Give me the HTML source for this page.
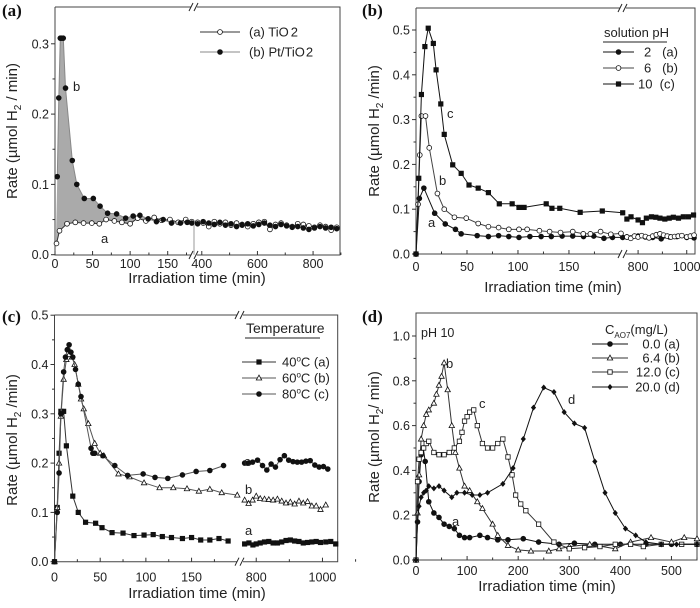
<!DOCTYPE html>
<html><head><meta charset="utf-8"><style>
html,body{margin:0;padding:0;background:#fff;}
svg{display:block;font-family:"Liberation Sans",sans-serif;}
</style></head><body>
<svg id="fig" width="700" height="608" viewBox="0 0 700 608" xmlns="http://www.w3.org/2000/svg"></svg>
<script>
// ---------- Panel (a) data ----------
const aT1 = [2,6,16,27,38,49,59,68,79,89,100,110,121,132,142,153,164,174,182];
const aV1 = [0.016,0.034,0.044,0.046,0.045,0.045,0.044,0.050,0.048,0.046,0.044,0.052,0.048,0.053,0.049,0.050,0.046,0.050,0.047];
const aT2 = [385,405,425,445,465,485,505,525,545,565,585,605,625,645,665,685,705,725,745,765,785,805,825,845,865,885];
const aV2 = [0.046,0.045,0.040,0.047,0.044,0.046,0.042,0.045,0.043,0.040,0.044,0.046,0.047,0.036,0.043,0.045,0.042,0.040,0.044,0.043,0.041,0.039,0.042,0.040,0.035,0.039];
const bT1 = [3,5,7,9,11,14,23,29,39,51,60,70,82,94,104,113,124,135,144,155,167,176,182];
const bV1 = [0.111,0.223,0.308,0.308,0.308,0.237,0.134,0.100,0.080,0.080,0.069,0.059,0.058,0.052,0.055,0.056,0.051,0.047,0.050,0.045,0.045,0.046,0.045];
const bV2 = [0.044,0.047,0.045,0.043,0.046,0.042,0.044,0.040,0.042,0.044,0.041,0.043,0.045,0.042,0.040,0.043,0.041,0.039,0.040,0.038,0.036,0.038,0.040,0.038,0.039,0.037];
// ---------- Panel (b) data ----------
const pHcT = [0,2.7,5.3,8.7,12,17,19.7,24.3,27.7,36,44.3,52,61,71,81.7,94.3,101,106,127.7,133.3,141,161,182.7,202.7, 754,771,800,818,834,855,873,890,910,928,945,966,986,1007,1028];
const pHcV = [0,0.169,0.356,0.463,0.504,0.470,0.411,0.335,0.267,0.199,0.180,0.154,0.147,0.137,0.112,0.112,0.104,0.104,0.112,0.102,0.102,0.093,0.096,0.092, 0.078,0.083,0.076,0.070,0.080,0.083,0.082,0.080,0.078,0.080,0.082,0.080,0.083,0.083,0.087];
const pHbT = [0,2,3.7,5.3,9.3,13,21,27.7,37.7,49.3,61,71,81,91,101,109,121,131,141.7,153.7,164,171,181,191,201, 754,770,785,800,815,830,845,860,875,890,905,920,935,950,965,980,1000,1015,1030];
const pHbV = [0,0.111,0.221,0.308,0.308,0.237,0.135,0.100,0.082,0.080,0.068,0.061,0.059,0.055,0.055,0.055,0.052,0.050,0.048,0.050,0.045,0.045,0.050,0.044,0.046, 0.038,0.035,0.040,0.038,0.041,0.039,0.036,0.040,0.043,0.045,0.042,0.040,0.038,0.039,0.040,0.041,0.038,0.040,0.042];
const pHaT = [0,3.3,7.7,18.3,28.7,38.7,44.3,60,71,81,91,101,111.7,122.7,132.7,143.3,153.7,164.3,174.3,184.3,192.7,202.7, 754,770,800,830,860,895,930,960,1000,1030];
const pHaV = [0,0.124,0.147,0.091,0.067,0.055,0.045,0.041,0.039,0.041,0.039,0.037,0.039,0.039,0.039,0.040,0.040,0.039,0.040,0.035,0.037,0.037, 0.038,0.036,0.040,0.038,0.037,0.034,0.038,0.039,0.037,0.036];
// ---------- Panel (c) data ----------
const tcT = [0,3,5,7,10,12,14,16,18,20,23,26,29,40,42,44,53,66,80,97,110,124,140,155,170,185, 765,777,789,804,819,832,845,858,872,885,898,911,924,937,950,963,977,990,1003,1016];
const tcV = [0,0.10,0.18,0.30,0.385,0.415,0.43,0.44,0.425,0.415,0.39,0.36,0.335,0.23,0.22,0.22,0.215,0.195,0.175,0.178,0.171,0.169,0.176,0.183,0.185,0.195, 0.200,0.200,0.202,0.206,0.195,0.186,0.198,0.192,0.207,0.215,0.206,0.203,0.202,0.202,0.204,0.205,0.196,0.192,0.193,0.188];
const tbT = [0,3,5,7,10,13,16,19,22,26,29,32,37,44,50,54,70,82,98,115,130,145,158,170,183,200, 765,777,789,800,812,825,838,851,864,877,890,903,916,929,942,955,968,981,994,1010];
const tbV = [0,0.11,0.20,0.295,0.37,0.41,0.42,0.415,0.40,0.36,0.33,0.31,0.28,0.24,0.22,0.215,0.178,0.172,0.16,0.15,0.15,0.148,0.143,0.147,0.14,0.135, 0.125,0.118,0.125,0.133,0.128,0.127,0.126,0.125,0.127,0.123,0.119,0.121,0.117,0.123,0.119,0.122,0.113,0.113,0.106,0.115];
const taT = [0,3,5,7,10,13,20,26,34,45,52,63,75,87,98,108,118,128,140,150,160,170,180,190, 765,778,790,800,812,825,838,851,864,877,890,903,916,929,942,955,968,981,994,1010,1025,1040];
const taV = [0,0.11,0.22,0.305,0.305,0.235,0.133,0.10,0.08,0.078,0.069,0.059,0.058,0.053,0.054,0.055,0.051,0.049,0.047,0.049,0.044,0.044,0.047,0.042, 0.036,0.038,0.034,0.036,0.038,0.040,0.041,0.038,0.038,0.040,0.043,0.044,0.042,0.041,0.038,0.039,0.040,0.041,0.039,0.040,0.041,0.036];
// ---------- Panel (d) data ----------
const dAT = [0,3,6,10,14,18,25,35,45,55,65,75,85,95,105,125,140,160,180,210,240,280,310,350,400,450,500,550];
const dAV = [0,0.17,0.35,0.47,0.50,0.44,0.26,0.21,0.19,0.16,0.15,0.14,0.11,0.10,0.10,0.11,0.10,0.09,0.09,0.095,0.08,0.07,0.075,0.07,0.07,0.07,0.07,0.07];
const dBT = [0,3,6,10,15,20,25,35,40,45,50,55,62,70,77,85,95,105,120,130,150,160,180,200,225,260,280,300,340,390,420,460,500,525,550];
const dBV = [0,0.21,0.38,0.54,0.60,0.65,0.67,0.70,0.74,0.78,0.82,0.88,0.76,0.60,0.48,0.41,0.33,0.31,0.26,0.23,0.16,0.11,0.065,0.045,0.04,0.04,0.05,0.06,0.07,0.05,0.08,0.10,0.08,0.10,0.095];
const dCT = [0,3,6,10,15,20,25,35,45,55,65,75,85,90,95,100,105,113,120,130,140,150,160,170,180,188,195,205,215,240,270,300,330,360,390,420,445,480,520,550];
const dCV = [0,0.35,0.45,0.48,0.50,0.52,0.53,0.48,0.47,0.47,0.48,0.50,0.53,0.57,0.62,0.64,0.66,0.67,0.60,0.52,0.50,0.50,0.52,0.54,0.46,0.38,0.29,0.25,0.22,0.16,0.08,0.05,0.055,0.06,0.07,0.07,0.06,0.07,0.07,0.07];
const dDT = [0,3,6,10,15,20,25,35,45,55,70,80,95,110,125,140,170,190,210,230,250,270,290,310,330,350,370,390,410,430,450,480,510,550];
const dDV = [0,0.17,0.24,0.28,0.30,0.31,0.33,0.32,0.33,0.31,0.28,0.30,0.30,0.29,0.29,0.30,0.34,0.41,0.54,0.68,0.77,0.75,0.66,0.61,0.59,0.44,0.30,0.21,0.14,0.11,0.08,0.07,0.07,0.07];

// tick labels
const aYTicks = [0,0.1,0.2,0.3];
const aXTicks1 = [0,50,100,150];
const aXTicks2 = [400,600,800];
const bYTicks = [0,0.1,0.2,0.3,0.4,0.5];
const bXTicks1 = [0,50,100,150];
const bXTicks2 = [800,1000];
const cYTicks = [0,0.1,0.2,0.3,0.4,0.5];
const cXTicks1 = [0,50,100,150];
const cXTicks2 = [800,1000];
const dYTicks = [0,0.2,0.4,0.6,0.8,1.0];
const dXTicks = [0,100,200,300,400,500];

const NS = "http://www.w3.org/2000/svg";
const svg = document.getElementById('fig');
function mk(tag, attrs, parent){
  const e = document.createElementNS(NS, tag);
  for (const k in attrs) e.setAttribute(k, attrs[k]);
  (parent||svg).appendChild(e);
  return e;
}
function makeX(segs){
  return function(t){
    for (const s of segs){ if (t >= s.d0 - 1e-9 && t <= s.d1 + 1e-9) return s.p0 + (t - s.d0)/(s.d1 - s.d0)*(s.p1 - s.p0); }
    const s = segs[segs.length-1]; return s.p0 + (t - s.d0)/(s.d1 - s.d0)*(s.p1 - s.p0);
  };
}
function segOf(segs, t){ for (let i=0;i<segs.length;i++){ if (t <= segs[i].d1 + 1e-9) return i; } return segs.length-1; }
function marker(g, type, cx, cy, name){
  let e;
  if (type==='fc'||type==='oc'){ e = mk('circle',{cx:cx,cy:cy,r:2.4,fill:type==='fc'?'#111':'#fff',stroke:'#111','stroke-width':0.8},g); }
  else if (type==='fs'||type==='os'){ e = mk('rect',{x:cx-2.2,y:cy-2.2,width:4.4,height:4.4,fill:type==='fs'?'#111':'#fff',stroke:'#111','stroke-width':0.8},g); }
  else if (type==='ot'){ e = mk('polygon',{points:`${cx},${cy-2.9} ${cx+2.7},${cy+2} ${cx-2.7},${cy+2}`,fill:'#fff',stroke:'#111','stroke-width':0.8},g); }
  else { e = mk('polygon',{points:`${cx},${cy-3} ${cx+2.6},${cy} ${cx},${cy+3} ${cx-2.6},${cy}`,fill:'#111'},g); }
  
  
}
function series(panel, segs, X, Y, T, V, type, color, name){
  const g = mk('g', {});
  
  
  let d = '';
  for (let i=0;i<T.length;i++){
    const x = X(T[i]), y = Y(V[i]);
    const newSeg = i===0 || segOf(segs,T[i]) !== segOf(segs,T[i-1]);
    d += (newSeg?'M':'L') + x.toFixed(1) + ',' + y.toFixed(1);
  }
  const p = mk('path',{d:d,fill:'none',stroke:color,'stroke-width':1},g);
  
  
  for (let i=0;i<T.length;i++) marker(g, type, X(T[i]), Y(V[i]), panel + '-point-' + name);
}
function txt(s, x, y, opts, name){
  const e = mk('text', Object.assign({x:x,y:y,'font-size':12,fill:'#222'}, opts||{}));
  e.textContent = s;
  
  
  return e;
}
function frame(panel, L, R, T, B, breakX){
  const g = mk('g', {});
  
  
  if (breakX){
    mk('path',{d:`M${L},${T}H${breakX-3}M${breakX+3},${T}H${R}V${B}H${breakX+3}M${breakX-3},${B}H${L}V${T}`,fill:'none',stroke:'#444','stroke-width':1},g);
    for (const yy of [T,B]){
      mk('line',{x1:breakX-5,y1:yy+4,x2:breakX-1,y2:yy-4,stroke:'#222','stroke-width':1},g);
      mk('line',{x1:breakX,y1:yy+4,x2:breakX+4,y2:yy-4,stroke:'#222','stroke-width':1},g);
    }
  } else {
    mk('rect',{x:L,y:T,width:R-L,height:B-T,fill:'none',stroke:'#444','stroke-width':1},g);
  }
}
function xTicks(panel, X, ticks, B, minorStep, off){
  const g = mk('g', {});
  
  
  for (const t of ticks){
    const x = X(t);
    mk('line',{x1:x,y1:B,x2:x,y2:B-4,stroke:'#333'},g);
    const e = mk('text',{x:x,y:B+off,'text-anchor':'middle','font-size':12.5,fill:'#222'},g);
    e.textContent = String(t);
    
    
    if (minorStep){ const xm = X(t + minorStep); mk('line',{x1:xm,y1:B,x2:xm,y2:B-2.5,stroke:'#333'},g); }
  }
}
function yTicks(panel, Y, ticks, L){
  const g = mk('g', {});
  
  
  for (let i=0;i<ticks.length;i++){
    const y = Y(ticks[i]);
    mk('line',{x1:L-4,y1:y,x2:L,y2:y,stroke:'#333'},g);
    if (i<ticks.length-1){ const ym=(y+Y(ticks[i+1]))/2; mk('line',{x1:L-2.5,y1:ym,x2:L,y2:ym,stroke:'#333'},g); }
    const e = mk('text',{x:L-6,y:y+4.5,'text-anchor':'end','font-size':12.5,fill:'#222'},g);
    e.textContent = ticks[i].toFixed(1);
    
    
  }
}
function yTitle(panel, x, yc, sub){
  const e = mk('text',{x:0,y:0,transform:`translate(${x},${yc}) rotate(-90)`,'text-anchor':'middle','font-size':15,fill:'#222'});
  e.innerHTML = 'Rate (µmol H<tspan dy="4" font-size="10">2</tspan><tspan dy="-4">' + sub + '</tspan>';
  
  
}
function xTitle(panel, x, y){
  txt('Irradiation time (min)', x, y, {'text-anchor':'middle','font-size':15}, panel + '-x-axis-title');
}
function panelLabel(s, x, y, panel){
  txt(s, x, y, {'font-family':'"Liberation Serif",serif','font-weight':'bold','font-size':17,fill:'#111'}, panel + '-panel-label');
}
function legendRow(panel, x1, x2, y, type, color, label, tx, anchor){
  const g = mk('g', {});
  
  
  mk('line',{x1:x1,y1:y,x2:x2,y2:y,stroke:color,'stroke-width':1},g);
  marker(g, type, (x1+x2)/2, y, panel + '-legend-marker');
  const e = mk('text',{x:tx,y:y+4.5,'font-size':13,fill:'#222','text-anchor':anchor||'start'},g);
  e.innerHTML = label;
  
  
}

// ===== Panel (a) =====
(function(){
  const segs = [{d0:0,d1:185,p0:55,p1:194},{d0:372,d1:895,p0:194,p1:339.5}];
  const X = makeX(segs), Y = v => 254.7 - v*703;
  let pts = bT1.map((t,i)=>X(t).toFixed(1)+','+Y(bV1[i]).toFixed(1));
  pts.push(X(185).toFixed(1)+','+Y(0.045).toFixed(1));
  for (let i=aT1.length-1;i>=0;i--) pts.push(X(aT1[i]).toFixed(1)+','+Y(aV1[i]).toFixed(1));
  pts.push(X(1).toFixed(1)+','+Y(0.01).toFixed(1));
  const sh = mk('polygon',{points:pts.join(' '),fill:'#aaa',stroke:'none'});
  
  
  const vl = mk('line',{x1:X(185),y1:Y(0.046),x2:X(185),y2:Y(0),stroke:'#999','stroke-width':1});
  
  
  frame('a',55,340,7,255,194);
  yTicks('a', Y, aYTicks, 55);
  xTicks('a', X, aXTicks1, 255, 25, 13);
  xTicks('a', X, aXTicks2, 255, 100, 13);
  series('a', segs, X, Y, aT1.concat(aT2), aV1.concat(aV2), 'oc', '#333', 'tio2');
  series('a', segs, X, Y, bT1.concat(aT2), bV1.concat(bV2), 'fc', '#888', 'pt-tio2');
  legendRow('a', 200, 240, 32, 'oc', '#333', '(a) TiO<tspan dx="2">2</tspan>', 249);
  legendRow('a', 200, 240, 52, 'fc', '#888', '(b) Pt/TiO<tspan dx="1">2</tspan>', 249);
  txt('b', 73, 91, {'font-size':13}, 'a-series-label-b');
  txt('a', 101, 243, {'font-size':13}, 'a-series-label-a');
  panelLabel('(a)', 2, 16, 'a');
  yTitle('a', 17, 131, ' / min)');
  xTitle('a', 197, 283);
})();

// ===== Panel (b) =====
(function(){
  const segs = [{d0:0,d1:203,p0:416,p1:623},{d0:738,d1:1034,p0:623,p1:695}];
  const X = makeX(segs), Y = v => 254 - v*448;
  frame('b',416,695,8,254,623);
  yTicks('b', Y, bYTicks, 416);
  xTicks('b', X, bXTicks1, 254, 25, 17);
  xTicks('b', X, bXTicks2, 254, 100, 17);
  series('b', segs, X, Y, pHaT, pHaV, 'fc', '#111', 'ph2');
  series('b', segs, X, Y, pHbT, pHbV, 'oc', '#444', 'ph6');
  series('b', segs, X, Y, pHcT, pHcV, 'fs', '#111', 'ph10');
  txt('solution pH', 604, 37, {'font-size':13}, 'b-legend-title');
  const u = mk('line',{x1:603,y1:42,x2:667,y2:42,stroke:'#222'});
  
  
  legendRow('b', 603, 634, 52, 'fc', '#111', '2 &#160;&#160;(a)', 644);
  legendRow('b', 603, 634, 68, 'oc', '#444', '6 &#160;&#160;(b)', 644);
  legendRow('b', 603, 634, 84, 'fs', '#111', '10 &#160;(c)', 638);
  txt('c', 447, 118, {'font-size':13}, 'b-series-label-c');
  txt('b', 439, 185, {'font-size':13}, 'b-series-label-b');
  txt('a', 428, 227, {'font-size':13}, 'b-series-label-a');
  panelLabel('(b)', 362, 16, 'b');
  yTitle('b', 379, 131, ' /min)');
  xTitle('b', 553, 292);
})();

// ===== Panel (c) =====
(function(){
  const segs = [{d0:0,d1:203,p0:54.5,p1:240},{d0:751,d1:1046,p0:240,p1:337.7}];
  const X = makeX(segs), Y = v => 561.7 - v*493;
  frame('c',54.5,337.7,315,561.7,240);
  yTicks('c', Y, cYTicks, 54.5);
  xTicks('c', X, cXTicks1, 561.7, 25, 20);
  xTicks('c', X, cXTicks2, 561.7, 100, 20);
  series('c', segs, X, Y, taT, taV, 'fs', '#333', '40c');
  series('c', segs, X, Y, tbT, tbV, 'ot', '#555', '60c');
  series('c', segs, X, Y, tcT, tcV, 'fc', '#555', '80c');
  txt('Temperature', 246, 333, {'font-size':14}, 'c-legend-title');
  const u = mk('line',{x1:245,y1:338,x2:320,y2:338,stroke:'#222'});
  
  
  legendRow('c', 242, 276, 362, 'fs', '#333', '40<tspan dy="-5" font-size="8">o</tspan><tspan dy="5">C (a)</tspan>', 282);
  legendRow('c', 242, 276, 378, 'ot', '#555', '60<tspan dy="-5" font-size="8">o</tspan><tspan dy="5">C (b)</tspan>', 282);
  legendRow('c', 242, 276, 394, 'fc', '#555', '80<tspan dy="-5" font-size="8">o</tspan><tspan dy="5">C (c)</tspan>', 282);
  txt('c', 244, 466, {'font-size':13}, 'c-series-label-c');
  txt('b', 245, 494, {'font-size':13}, 'c-series-label-b');
  txt('a', 245, 535, {'font-size':13}, 'c-series-label-a');
  panelLabel('(c)', 2, 322, 'c');
  yTitle('c', 17, 440, ' /min)');
  xTitle('c', 197, 598);
})();

// ===== Panel (d) =====
(function(){
  const segs = [{d0:0,d1:550,p0:416,p1:697}];
  const X = makeX(segs), Y = v => 560 - v*224;
  frame('d',416,697,313,560,null);
  yTicks('d', Y, dYTicks, 416);
  xTicks('d', X, dXTicks, 560, 50, 15);
  series('d', segs, X, Y, dAT, dAV, 'fc', '#111', 'c0');
  series('d', segs, X, Y, dBT, dBV, 'ot', '#333', 'c6');
  series('d', segs, X, Y, dCT, dCV, 'os', '#333', 'c12');
  series('d', segs, X, Y, dDT, dDV, 'fd', '#111', 'c20');
  txt('pH 10', 421, 337, {'font-size':12.5}, 'd-annotation-ph');
  const lt = txt('', 605, 334, {'font-size':13}, 'd-legend-title');
  lt.innerHTML = 'C<tspan dy="4" font-size="8">AO7</tspan><tspan dy="-4">(mg/L)</tspan>';
  legendRow('d', 592, 628, 344, 'fc', '#111', '0.0 (a)', 680, 'end');
  legendRow('d', 592, 628, 358, 'ot', '#333', '6.4 (b)', 680, 'end');
  legendRow('d', 592, 628, 372, 'os', '#333', '12.0 (c)', 680, 'end');
  legendRow('d', 592, 628, 387, 'fd', '#111', '20.0 (d)', 680, 'end');
  txt('b', 446, 368, {'font-size':13}, 'd-series-label-b');
  txt('c', 479, 408, {'font-size':13}, 'd-series-label-c');
  txt('d', 568, 404, {'font-size':13}, 'd-series-label-d');
  txt('a', 452, 526, {'font-size':13}, 'd-series-label-a');
  panelLabel('(d)', 362, 322, 'd');
  yTitle('d', 379, 437, '/ min)');
  xTitle('d', 547, 591);
})();
</script>
</body></html>
